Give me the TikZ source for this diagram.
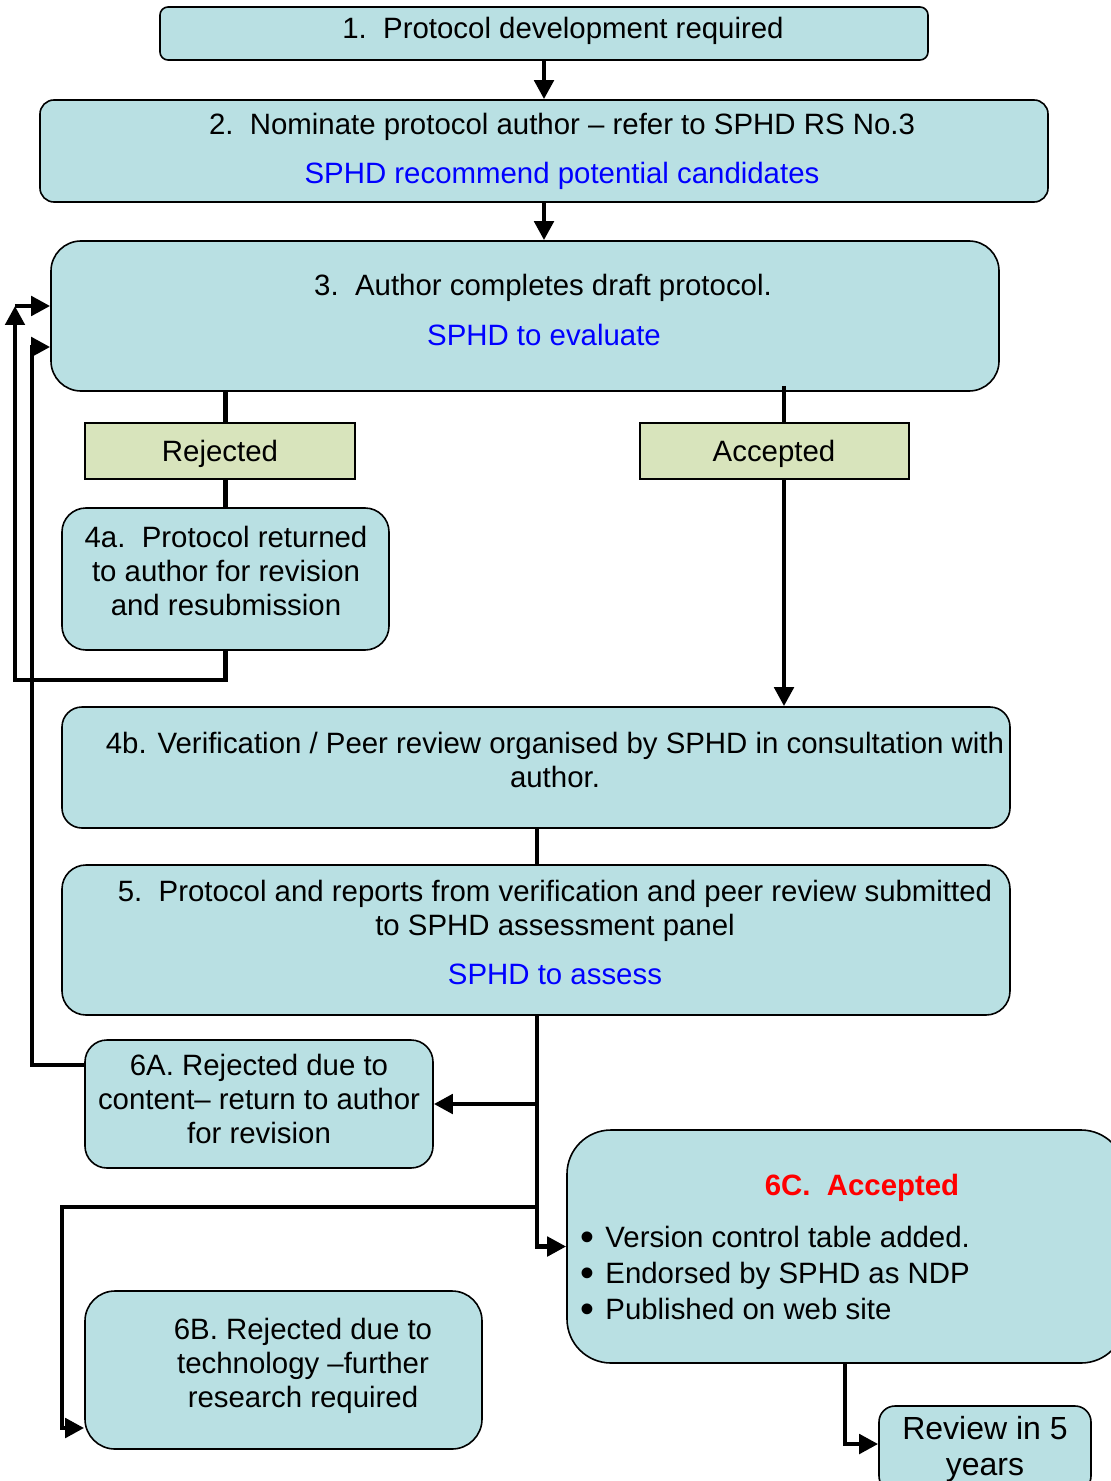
\documentclass[tikz,border=0pt]{standalone}
\usepackage{fontspec}
\setmainfont{Liberation Sans}
\usetikzlibrary{arrows.meta}
\definecolor{boxfill}{RGB}{185,224,227}
\definecolor{labfill}{RGB}{216,228,188}
\definecolor{bluetxt}{RGB}{0,0,255}
\definecolor{redtxt}{RGB}{255,0,0}
\newcommand\mkbox[7]{%
  \node[#1, rounded corners=#7, minimum width={(#5-#3)*0.5pt}, minimum height={(#6-#4)*0.5pt}]
    (#2) at ({(#3+#5)/2},{(#4+#6)/2}) {};}
\newcommand\bul{\makebox[12.5pt][l]{\raisebox{-1.6pt}{\scalebox{1.35}{•}}}}
\begin{document}
\begin{tikzpicture}[x=0.5pt,y=-0.5pt,
  box/.style={draw=black, line width=0.8pt, fill=boxfill, inner sep=0pt},
  lab/.style={draw=black, line width=0.8pt, fill=labfill, inner sep=0pt},
  txt/.style={font=\fontsize{14.7}{17}\selectfont, inner sep=0pt, align=center},
  bluet/.style={txt, text=bluetxt},
  conn/.style={line width=2.4pt},
  arr/.style={conn, -{Triangle[width=9.5pt,length=9.5pt]}}]
\useasboundingbox (0,0) rectangle (1110,1481);

% boxes
\mkbox{box}{b1}{160}{7}{928}{60}{4pt}
\mkbox{box}{b2}{40}{100}{1048}{202}{7pt}
\mkbox{box}{b3}{51}{241}{999}{391}{15pt}
\mkbox{lab}{rej}{85}{423}{355}{479}{0pt}
\mkbox{lab}{acc}{640}{423}{909}{479}{0pt}
\mkbox{box}{b4a}{62}{508}{389}{650}{12pt}
\mkbox{box}{b4b}{62}{707}{1010}{828}{10pt}
\mkbox{box}{b5}{62}{865}{1010}{1015}{12pt}
\mkbox{box}{b6a}{85}{1040}{433}{1168}{11pt}
\mkbox{box}{b6b}{85}{1291}{482}{1449}{15pt}
\mkbox{box}{b6c}{567}{1130}{1125}{1363}{22pt}
\mkbox{box}{rev}{879}{1406}{1091}{1492}{8pt}

% texts
\node[txt, anchor=base] (t1) at (563,39) {1.\ \ Protocol development required};
\node[txt, anchor=base] (t2) at (562,135) {2.\ \ Nominate protocol author -- refer to SPHD RS No.3};
\node[bluet, anchor=base] (t2b) at (562,184) {SPHD recommend potential candidates};
\node[txt, anchor=base] (t3) at (543,296) {3.\ \ Author completes draft protocol.};
\node[bluet, anchor=base] (t3b) at (544,345) {SPHD to evaluate};
\node[txt, anchor=base] (trej) at (220,461) {Rejected};
\node[txt, anchor=base] (tacc) at (774,461) {Accepted};
\node[txt, anchor=north] (t4a) at (226,526) {4a.\ \ Protocol returned\\to author for revision\\and resubmission};
\node[txt, anchor=north] (t4b) at (555,732) {4b. Verification / Peer review organised by SPHD in consultation with\\author.};
\node[txt, anchor=north] (t5) at (555,880) {5.\ \ Protocol and reports from verification and peer review submitted\\to SPHD assessment panel};
\node[bluet, anchor=base] (t5b) at (555,984) {SPHD to assess};
\node[txt, anchor=north] (t6a) at (259,1054) {6A. Rejected due to\\content-- return to author\\for revision};
\node[txt, anchor=north] (t6b) at (303,1318) {6B. Rejected due to\\technology --further\\research required};
\node[txt, anchor=base, text=redtxt, font=\fontsize{14.7}{17}\selectfont\bfseries] (t6c) at (862,1195) {6C.\ \ Accepted};
\node[txt, anchor=north west, align=left, font=\fontsize{14.7}{18}\selectfont] (t6cl) at (580,1226)
  {\bul Version control table added.\\\bul Endorsed by SPHD as NDP\\\bul Published on web site};
\node[txt, anchor=north, font=\fontsize{16}{18}\selectfont] (trev) at (985,1416) {Review in 5\\years};

% connector coordinates
\coordinate (XA) at (784,0);
\coordinate (X5) at (537,0);
\coordinate (L1) at (15,680);
\coordinate (L2) at (15,306);
\coordinate (M1) at (32,1065);
\coordinate (M2) at (32,347);
\coordinate (J6a) at (537,1104);
\coordinate (J6b) at (537,1207);
\coordinate (K1) at (62,1207);
\coordinate (K2) at (62,1428);
\coordinate (R1) at (845,1444);

% connectors
\draw[arr] (b1.south) -- (b1.south |- b2.north);
\draw[arr] (b2.south) -- (b2.south |- b3.north);
\draw[conn] (b4a.north |- b3.south) -- (b4a.north |- rej.north);
\draw[conn] (b4a.north |- rej.south) -- (b4a.north);
\draw[arr] (b4a.south) -- (b4a.south |- L1) -- (L1) -- (L2);
\draw[arr] (L2) -- (L2 -| b3.west);
\draw[arr] (M1 -| b6a.west) -- (M1) -- (M2) -- (M2 -| b3.west);
\draw[conn] ([yshift=3pt]XA |- b3.south) -- (XA |- acc.north);
\draw[arr] (XA |- acc.south) -- (XA |- b4b.north);
\draw[conn] (X5 |- b4b.south) -- (X5 |- b5.north);
\draw[arr] (X5 |- b5.south) |- (b6c.west);
\draw[arr] (J6a) -- (b6a.east);
\draw[arr] (J6b) -- (K1) -- (K2) -- (K2 -| b6b.west);
\draw[arr] (R1 |- b6c.south) -- (R1) -- (R1 -| rev.west);
\end{tikzpicture}
\end{document}
